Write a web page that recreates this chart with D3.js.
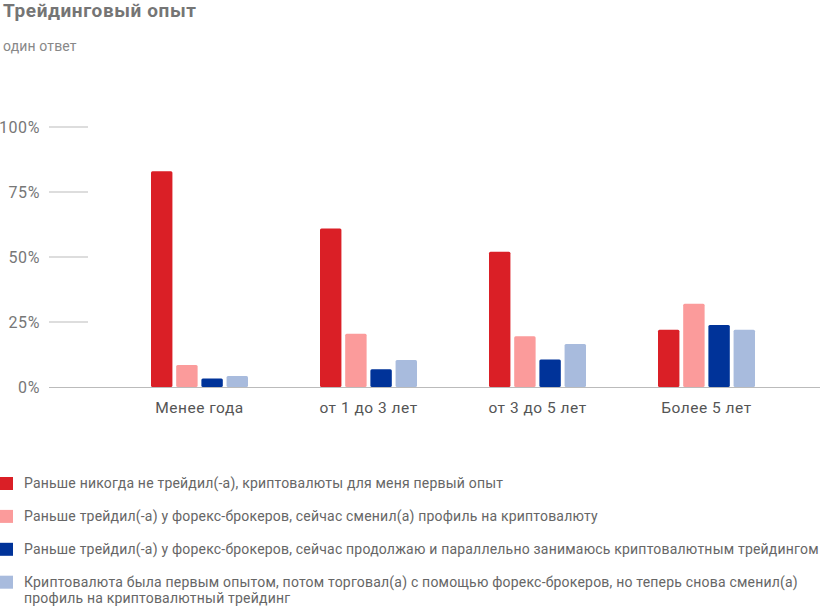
<!DOCTYPE html>
<html><head><meta charset="utf-8">
<script src="https://cdn.jsdelivr.net/npm/d3@7"></script>
<style>
html,body{margin:0;padding:0;background:#fff;}
svg{display:block;font-family:Roboto,"Noto Sans",sans-serif;}
</style></head>
<body>
<svg id="c" width="820" height="607"></svg>
<script>
const categories = ["Менее года","от 1 до 3 лет","от 3 до 5 лет","Более 5 лет"];
const seriesNames = [
  "Раньше никогда не трейдил(-а), криптовалюты для меня первый опыт",
  "Раньше трейдил(-а) у форекс-брокеров, сейчас сменил(а) профиль на криптовалюту",
  "Раньше трейдил(-а) у форекс-брокеров, сейчас продолжаю и параллельно занимаюсь криптовалютным трейдингом",
  "Криптовалюта была первым опытом, потом торговал(а) с помощью форекс-брокеров, но теперь снова сменил(а)|профиль на криптовалютный трейдинг"
];
const seriesColors = ["#da1f26","#fb9b9b","#003399","#a8bbdd"];
const s1 = [83, 61, 52, 22];
const s2 = [8.5, 20.5, 19.5, 32];
const s3 = [3.3, 6.8, 10.6, 23.8];
const s4 = [4.2, 10.4, 16.5, 22];
const yTicks = [0, 25, 50, 75, 100];
const values = [s1, s2, s3, s4];

const svg = d3.select("#c");
svg.append("text").attr("x",3).attr("y",17).attr("font-size",19).attr("font-weight","bold")
  .attr("letter-spacing",0.6).attr("fill","#757575").text("Трейдинговый опыт");
svg.append("text").attr("x",3).attr("y",51).attr("font-size",14).attr("letter-spacing",0.15)
  .attr("fill","#888").text("один ответ");

const y = d3.scaleLinear().domain([0,100]).range([387,127]);
const x0 = d3.scaleBand().domain(categories).range([115,791]).padding(0);
const x1 = d3.scaleBand().domain(d3.range(4)).range([-48.5,48.5]).paddingInner(0.15).paddingOuter(0);

// y ticks
const yAxis = svg.append("g");
yAxis.selectAll("line.t").data(yTicks.filter(d=>d>0)).join("line")
  .attr("x1",49).attr("x2",88).attr("y1",d=>y(d)).attr("y2",d=>y(d))
  .attr("stroke","#bbb").attr("stroke-width",1);
yAxis.selectAll("text").data(yTicks).join("text")
  .attr("x",40).attr("y",d=>y(d)+6.3).attr("text-anchor","end")
  .attr("font-size",16).attr("letter-spacing",0.6).attr("fill","#777").text(d=>d+"%");

// bars
const g = svg.append("g");
categories.forEach((c,ci)=>{
  values.forEach((arr,si)=>{
    const v = arr[ci];
    g.append("rect")
      .attr("x", x0(c)+x0.bandwidth()/2 + x1(si))
      .attr("y", y(v))
      .attr("width", x1.bandwidth())
      .attr("height", y(0)-y(v))
      .attr("rx",1.5)
      .attr("fill", seriesColors[si]);
  });
});
// baseline
svg.append("line").attr("x1",49).attr("x2",820).attr("y1",y(0)+0.5).attr("y2",y(0)+0.5)
  .attr("stroke","#bbb").attr("stroke-width",1.2);

// category labels
svg.selectAll("text.cat").data(categories).join("text").attr("class","cat")
  .attr("x",d=>x0(d)+x0.bandwidth()/2).attr("y",413).attr("text-anchor","middle")
  .attr("font-size",15.5).attr("letter-spacing",0.5).attr("fill","#555").text(d=>d);

// legend
const lg = svg.append("g");
seriesNames.forEach((name,i)=>{
  const yy = 477 + i*32.9;
  lg.append("rect").attr("x",0).attr("y",yy).attr("width",13).attr("height",13).attr("fill",seriesColors[i]);
  const lines = name.split("|");
  lines.forEach((ln,li)=>{
    lg.append("text").attr("x",24).attr("y",yy+11.3+li*15.5).attr("font-size",14)
      .attr("letter-spacing",0.2).attr("fill","#666").text(ln);
  });
});
</script>
</body></html>
